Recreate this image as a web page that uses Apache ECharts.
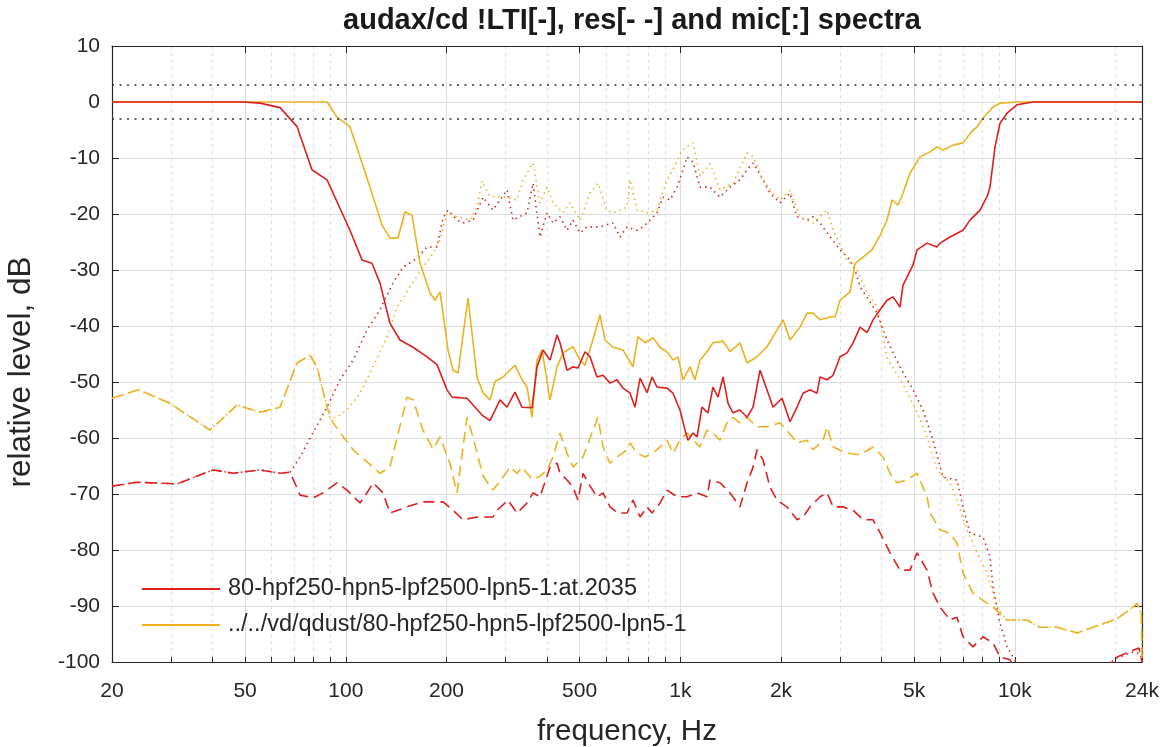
<!DOCTYPE html>
<html>
<head>
<meta charset="utf-8">
<script src="https://cdn.jsdelivr.net/npm/echarts@6/dist/echarts.min.js"></script>
<style>
html,body{margin:0;padding:0;background:#fff;}
#chart{width:1170px;height:747px;}
</style>
</head>
<body>
<div id="chart"></div>
<script>
// ---- tick definitions ----
const majorTicks = [20, 50, 100, 200, 500, 1000, 2000, 5000, 10000, 24000];
const minorTicks = [30, 40, 60, 70, 80, 90, 300, 400, 600, 700, 800, 900, 3000, 4000, 6000, 7000, 8000, 9000, 20000];
const allTicks = majorTicks.concat(minorTicks).sort((a, b) => a - b);
const limitLines = [3, -3];

// ---- series names ----
const nameRed = '80-hpf250-hpn5-lpf2500-lpn5-1:at.2035';
const nameOrange = '../../vd/qdust/80-hpf250-hpn5-lpf2500-lpn5-1';

// ---- LTI spectra (solid) [Hz, dB] ----
const ltiRed = [[20,0],[49.3,0],[55.4,-0.2],[63.6,-1.0],[71.5,-4.4],[79.2,-12.1],[87.9,-13.9],[102.9,-22.9],[111.8,-28.2],[119.7,-28.8],[126.5,-32.3],[135.5,-39.5],[145.2,-42.5],[158.8,-43.8],[174.9,-45.5],[187.3,-46.9],[200.7,-51.4],[207.7,-52.7],[230.3,-52.9],[255.4,-55.9],[269.8,-56.9],[289.1,-53.2],[303.3,-54.5],[320.5,-51.8],[336.3,-54.5],[360.3,-54.6],[372.9,-47.3],[388.7,-44.3],[407.9,-46.1],[428.0,-41.6],[436.9,-43.0],[458.5,-47.9],[477.8,-47.3],[494.5,-47.5],[518.9,-44.6],[537.1,-45.5],[563.5,-49.1],[587.4,-48.8],[616.4,-50.2],[646.8,-49.6],[674.1,-51.1],[707.4,-52.0],[732.1,-54.5],[757.8,-49.3],[795.2,-51.9],[823.0,-49.1],[851.9,-50.9],[912.4,-51.1],[950.9,-52.0],[997.8,-55.0],[1033,-58.6],[1054,-60.4],[1091,-59.1],[1122,-59.8],[1161,-54.5],[1210,-55.5],[1252,-50.9],[1296,-52.7],[1342,-49.1],[1389,-53.8],[1437,-55.5],[1508,-55.0],[1583,-56.3],[1650,-54.5],[1731,-47.9],[1816,-51.4],[1893,-54.5],[2014,-52.9],[2128,-57.1],[2233,-54.5],[2327,-52.0],[2442,-51.4],[2563,-52.0],[2617,-49.1],[2746,-49.6],[2862,-48.8],[3003,-45.5],[3151,-44.8],[3284,-43.0],[3446,-40.2],[3616,-41.2],[3769,-38.9],[3954,-37.1],[4149,-35.4],[4324,-34.8],[4537,-36.6],[4632,-32.7],[4962,-29.1],[5100,-26.4],[5464,-25.2],[5853,-25.9],[5976,-25.2],[6401,-24.1],[7000,-22.9],[7346,-21.1],[7869,-19.3],[8258,-16.9],[8430,-15.2],[8725,-8.0],[9030,-3.8],[9476,-2.0],[10150,-0.5],[11333,0],[24000,0]];

const ltiOrange = [[20,0],[87.9,0],[94.1,-2.7],[102.9,-4.4],[110.3,-9.8],[118.1,-15.2],[128.3,-22.0],[135.5,-24.3],[143.2,-24.3],[150.3,-19.6],[157.7,-20.2],[166.7,-28.8],[178.5,-34.1],[184.8,-35.4],[191.3,-33.9],[202.1,-44.3],[209.2,-47.9],[216.5,-48.4],[231.9,-35.0],[246.7,-49.1],[257.1,-51.9],[269.8,-53.2],[279.3,-49.9],[295.1,-49.1],[309.7,-47.9],[320.5,-47.0],[336.3,-49.6],[348.1,-50.9],[360.3,-56.3],[372.9,-46.1],[386.0,-44.3],[407.9,-53.2],[428.0,-47.3],[446.0,-44.8],[477.8,-43.7],[501.4,-46.1],[518.9,-47.0],[544.5,-43.0],[575.3,-38.0],[595.5,-42.5],[629.2,-43.8],[674.1,-44.3],[722.0,-47.3],[747.3,-41.9],[784.3,-43.0],[828.7,-42.1],[869.6,-43.8],[918.8,-44.8],[950.9,-46.1],[984.2,-45.5],[1019,-49.6],[1069,-47.3],[1106,-49.6],[1145,-46.1],[1202,-44.6],[1252,-43.0],[1342,-42.7],[1408,-44.6],[1508,-43.0],[1583,-46.6],[1696,-45.5],[1816,-43.7],[1946,-40.7],[2028,-38.9],[2128,-42.5],[2280,-40.2],[2392,-37.7],[2493,-37.7],[2617,-38.9],[2803,-38.4],[2901,-38.4],[3003,-35.4],[3217,-33.9],[3330,-28.8],[3518,-27.7],[3743,-26.4],[3954,-23.8],[4149,-21.1],[4294,-17.5],[4476,-18.4],[4632,-16.3],[4860,-12.7],[5207,-9.8],[5578,-8.9],[5853,-8.0],[6100,-8.6],[6535,-7.7],[7000,-7.3],[7499,-5.0],[7709,-4.5],[8034,-2.9],[8606,-0.9],[9030,-0.2],[10150,0],[24000,0]];

// ---- residual spectra (dashed) [Hz, dB] ----
const resRed = [[20,-68.6],[23.8,-67.9],[31.3,-68.2],[40.1,-65.7],[46.0,-66.3],[55.4,-65.7],[63.6,-66.3],[68.1,-66.1],[73.0,-70.2],[79.8,-70.7],[85.5,-69.8],[94.1,-68.0],[100.8,-69.3],[110.3,-71.6],[115.7,-69.8],[120.6,-68.0],[129.2,-69.8],[135.5,-73.4],[152.4,-72.3],[170.1,-71.4],[195.3,-71.4],[209.2,-72.9],[224.0,-74.6],[246.7,-74.1],[275.4,-74.1],[283.2,-72.9],[305.4,-71.1],[325.0,-73.4],[348.1,-71.6],[362.8,-69.8],[380.7,-70.5],[407.9,-65.2],[428.0,-64.5],[436.9,-66.3],[458.5,-67.5],[477.8,-68.8],[494.5,-71.1],[511.8,-66.3],[529.8,-68.0],[563.5,-70.5],[587.4,-69.8],[616.4,-72.3],[651.3,-73.4],[692.9,-73.4],[722.0,-71.1],[757.8,-74.1],[795.2,-72.3],[823.0,-73.4],[869.6,-71.6],[912.4,-69.3],[977.4,-70.5],[1047,-70.5],[1122,-69.8],[1202,-70.5],[1227,-67.5],[1314,-68.0],[1408,-69.8],[1508,-72.3],[1583,-68.0],[1650,-65.2],[1696,-62.1],[1767,-63.9],[1854,-68.8],[1946,-71.1],[2084,-72.3],[2233,-74.6],[2327,-74.1],[2442,-72.3],[2617,-70.5],[2746,-69.8],[2862,-72.3],[3065,-72.3],[3284,-72.9],[3518,-74.6],[3769,-74.6],[3954,-76.9],[4236,-80.5],[4537,-83.6],[4860,-83.6],[5100,-80.5],[5464,-83.6],[5694,-87.7],[5976,-90.2],[6401,-92.5],[6717,-92.0],[7000,-95.5],[7499,-97.3],[8034,-95.5],[8606,-96.6],[9030,-99.1],[9673,-99.6],[10362,-103],[11892,-106],[17000,-106],[18860,-101],[20210,-99.1],[22560,-97.9],[23500,-97.5],[24000,-100]];

const resOrange = [[20,-52.9],[24.0,-51.4],[29.8,-53.8],[39.3,-58.6],[47.3,-54.1],[55.4,-55.4],[63.6,-54.5],[71.5,-46.6],[78.2,-45.2],[82.0,-47.3],[87.9,-54.5],[91.6,-57.3],[105.1,-62.1],[126.5,-66.3],[135.5,-65.2],[152.4,-52.7],[159.0,-53.2],[170.1,-58.6],[182.3,-62.0],[191.3,-59.8],[204.9,-64.6],[215.0,-69.8],[230.3,-56.3],[240.0,-59.8],[257.1,-66.8],[269.8,-68.6],[275.4,-69.3],[295.1,-67.0],[309.7,-65.2],[325.0,-66.3],[336.3,-65.2],[348.1,-66.3],[362.8,-67.5],[380.7,-66.8],[399.5,-65.7],[416.4,-63.4],[436.9,-59.1],[458.5,-62.7],[477.8,-65.2],[511.8,-63.4],[548.2,-58.6],[567.4,-56.3],[587.4,-61.6],[616.4,-64.5],[646.8,-63.4],[692.9,-62.1],[707.4,-60.9],[742.2,-62.7],[784.3,-63.4],[828.7,-62.7],[869.6,-61.6],[912.4,-60.4],[950.9,-62.7],[997.8,-60.4],[1047,-59.1],[1145,-61.6],[1202,-58.6],[1252,-59.1],[1314,-60.4],[1379,-57.3],[1437,-56.3],[1508,-57.3],[1583,-56.3],[1696,-58.0],[1816,-58.0],[1986,-57.3],[2084,-58.6],[2233,-60.9],[2392,-60.4],[2493,-62.1],[2671,-60.4],[2746,-58.0],[2862,-61.6],[3151,-62.7],[3446,-63.0],[3769,-61.6],[4036,-63.4],[4236,-66.3],[4444,-68.0],[4761,-67.5],[5100,-66.3],[5464,-70.5],[5578,-73.4],[5976,-76.4],[6401,-77.0],[6717,-78.8],[7000,-84.1],[7499,-87.7],[8034,-89.0],[8606,-90.2],[9476,-92.5],[10874,-92.5],[11892,-93.8],[13374,-93.8],[15346,-94.8],[17130,-93.8],[20210,-92.3],[22560,-90.2],[23190,-89.5],[23900,-91.5],[24000,-100]];

// ---- microphone spectra (dotted) [Hz, dB] ----
const micRed = [[20,-68.6],[23.8,-67.9],[31.3,-68.2],[40.1,-65.7],[46.0,-66.3],[55.4,-65.7],[63.6,-66.3],[68.1,-66.1],[73.0,-63.4],[78.2,-60.0],[87.9,-54.5],[96.1,-49.6],[105.1,-46.1],[115.7,-40.7],[126.5,-37.1],[138.4,-32.3],[148.3,-29.5],[163.3,-27.9],[174.9,-25.9],[187.3,-25.9],[195.3,-20.7],[202.1,-19.3],[215.0,-21.1],[224.0,-21.6],[240.0,-21.1],[257.1,-17.0],[275.4,-19.3],[303.3,-15.7],[316.1,-21.1],[348.1,-19.8],[362.8,-14.5],[380.7,-24.1],[399.5,-19.8],[416.4,-21.6],[436.9,-20.5],[458.5,-22.9],[477.8,-21.1],[501.4,-23.4],[526.1,-22.3],[575.3,-22.3],[629.2,-21.6],[660.4,-24.1],[692.9,-22.3],[742.2,-22.9],[773.5,-22.3],[811.8,-21.1],[851.9,-19.8],[887.8,-17.0],[931.5,-17.5],[977.4,-15.2],[1012,-12.7],[1047,-9.8],[1091,-10.7],[1145,-15.2],[1227,-15.2],[1314,-17.0],[1408,-15.2],[1508,-13.9],[1583,-12.1],[1650,-10.9],[1767,-13.9],[1854,-16.3],[1986,-18.0],[2128,-16.3],[2233,-20.5],[2392,-21.1],[2493,-20.5],[2617,-21.6],[2803,-24.1],[3003,-26.4],[3217,-28.2],[3330,-30.0],[3446,-33.0],[3692,-35.7],[3873,-37.7],[4149,-42.5],[4537,-47.3],[4962,-51.4],[5315,-55.0],[5694,-60.4],[6100,-67.0],[6717,-67.5],[7000,-72.3],[7346,-77.0],[8034,-77.7],[8430,-81.2],[8606,-86.6],[9030,-93.0],[9476,-97.3],[9875,-99.1],[10362,-101],[11892,-105],[17000,-105],[18860,-100.5],[20210,-99.3],[22560,-98.2],[23700,-98.5],[24000,-100]];

const micOrange = [[20,-52.9],[24.0,-51.4],[29.8,-53.8],[39.3,-58.6],[47.3,-54.1],[55.4,-55.4],[63.6,-54.5],[71.5,-46.6],[78.2,-45.2],[82.0,-47.3],[87.9,-54.5],[89.7,-56.4],[94.1,-56.3],[100.8,-55.0],[110.3,-52.0],[120.6,-47.3],[132.8,-42.0],[142.3,-36.6],[155.6,-33.0],[170.1,-29.5],[182.3,-27.0],[191.3,-24.6],[200.7,-19.8],[215.0,-20.5],[235.1,-21.1],[246.7,-18.8],[255.4,-14.1],[269.8,-16.9],[295.1,-16.9],[325.0,-17.5],[338.7,-13.9],[362.8,-10.9],[380.7,-18.0],[399.5,-15.2],[416.4,-18.0],[446.0,-19.8],[468.0,-18.0],[501.4,-21.1],[537.1,-16.3],[567.4,-14.5],[603.8,-19.3],[629.2,-19.8],[692.9,-18.8],[707.4,-13.9],[742.2,-19.3],[795.2,-19.8],[851.9,-19.3],[912.4,-13.9],[950.9,-12.1],[1012,-8.6],[1047,-8.0],[1091,-7.3],[1145,-13.2],[1227,-11.0],[1314,-15.7],[1437,-14.5],[1583,-9.1],[1650,-9.8],[1767,-13.9],[1893,-16.3],[1986,-17.5],[2128,-15.7],[2280,-20.5],[2493,-21.6],[2746,-19.3],[2862,-22.9],[3151,-28.2],[3376,-30.0],[3616,-34.1],[3873,-36.6],[4149,-45.7],[4632,-50.4],[5100,-55.4],[5464,-59.8],[5853,-65.7],[6401,-68.0],[6717,-71.1],[7196,-76.4],[7709,-80.5],[8258,-84.1],[8606,-87.7],[8846,-90.2],[9476,-92.5],[10874,-92.5],[11892,-93.8],[13374,-93.8],[15346,-94.8],[17130,-93.8],[20210,-92.3],[22560,-90.2],[23190,-89.5],[23900,-91.5],[24000,-100]];

// ---- styling ----
const RED = '#dd1f1f';
const ORANGE = '#edb120';
const AXIS = '#262626';
const GRID = '#dcdcdc';
const FONT = 'Liberation Sans';

function fmtFreq(v) {
  return v >= 1000 ? (Math.round(v / 100) / 10) + 'k' : String(Math.round(v));
}

function lineSeries(name, data, color, type, width, z) {
  return {
    name: name, type: 'line', data: data, xAxisIndex: 0, yAxisIndex: 0,
    symbol: 'none', showSymbol: false, smooth: false, clip: true, z: z,
    lineStyle: { color: color, width: width, type: type },
    itemStyle: { color: color },
    emphasis: { disabled: true }
  };
}

const chart = echarts.init(document.getElementById('chart'), null, { renderer: 'canvas' });

const seriesList = [
  lineSeries('mic red', micRed, RED, [1.5, 4], 1.6, 2),
  lineSeries('mic orange', micOrange, ORANGE, [1.5, 4], 1.6, 2),
  lineSeries('res red', resRed, RED, [11, 6], 1.6, 3),
  lineSeries('res orange', resOrange, ORANGE, [11, 6], 1.6, 3),
  lineSeries(nameOrange, ltiOrange, ORANGE, 'solid', 1.6, 4),
  lineSeries(nameRed, ltiRed, RED, 'solid', 1.6, 5)
];
seriesList[0].markLine = {
  silent: true, symbol: 'none', label: { show: false }, animation: false,
  lineStyle: { color: '#333333', type: [2, 5.5], width: 1.6 },
  data: limitLines.map(v => ({ yAxis: v }))
};

chart.setOption({
  animation: false,
  backgroundColor: '#ffffff',
  title: {
    text: 'audax/cd !LTI[-], res[- -] and mic[:] spectra',
    left: 627, textAlign: 'center', top: 1,
    textStyle: { fontFamily: FONT, fontSize: 29, fontWeight: 'bold', color: '#1a1a1a' }
  },
  legend: {
    data: [
      { name: nameRed, icon: 'rect' },
      { name: nameOrange, icon: 'rect' }
    ],
    orient: 'vertical', left: 137, top: 572,
    itemWidth: 78, itemHeight: 2, itemGap: 12,
    selectedMode: false,
    textStyle: { fontFamily: FONT, fontSize: 23.5, color: '#262626', padding: [0, 0, 0, 3] }
  },
  grid: { left: 112, right: 28, top: 46, bottom: 85, containLabel: false, outerBoundsMode: 'none' },
  xAxis: [
    {
      type: 'log', logBase: 10, min: 20, max: 24000, position: 'bottom',
      name: 'frequency, Hz', nameLocation: 'middle', nameGap: 55,
      nameTextStyle: { fontFamily: FONT, fontSize: 29.5, color: '#262626' },
      axisLine: { show: true, onZero: false, lineStyle: { color: AXIS, width: 1.2 } },
      axisTick: { show: true, inside: true, length: 5, customValues: allTicks, lineStyle: { color: AXIS } },
      axisLabel: { show: true, customValues: majorTicks, formatter: fmtFreq, fontFamily: FONT, fontSize: 21, color: '#262626', margin: 19, showMinLabel: true, showMaxLabel: true },
      splitLine: { show: true, lineStyle: { color: GRID, type: [3, 4], width: 1 } },
      minorTick: { show: false }, minorSplitLine: { show: false }
    },
    {
      type: 'log', logBase: 10, min: 20, max: 24000, position: 'top',
      axisLine: { show: true, onZero: false, lineStyle: { color: AXIS, width: 1.2 } },
      axisTick: { show: true, inside: true, length: 7, customValues: majorTicks, lineStyle: { color: AXIS } },
      axisLabel: { show: false },
      splitLine: { show: true, lineStyle: { color: GRID, type: 'solid', width: 1 } }
    }
  ],
  yAxis: [
    {
      type: 'value', min: -100, max: 10, interval: 10, position: 'left',
      name: 'relative level, dB', nameLocation: 'middle', nameGap: 75,
      nameTextStyle: { fontFamily: FONT, fontSize: 31.5, color: '#262626', padding: [0, 36, 0, 0] },
      axisLine: { show: true, onZero: false, lineStyle: { color: AXIS, width: 1.2 } },
      axisTick: { show: true, inside: true, length: 7, lineStyle: { color: AXIS } },
      axisLabel: { fontFamily: FONT, fontSize: 21, color: '#262626', margin: 12 },
      splitLine: { show: true, lineStyle: { color: GRID, width: 1 } }
    },
    {
      type: 'value', min: -100, max: 10, interval: 10, position: 'right',
      axisLine: { show: true, onZero: false, lineStyle: { color: AXIS, width: 1.2 } },
      axisTick: { show: true, inside: true, length: 7, lineStyle: { color: AXIS } },
      axisLabel: { show: false },
      splitLine: { show: false }
    }
  ],
  series: seriesList
});
</script>
</body>
</html>
